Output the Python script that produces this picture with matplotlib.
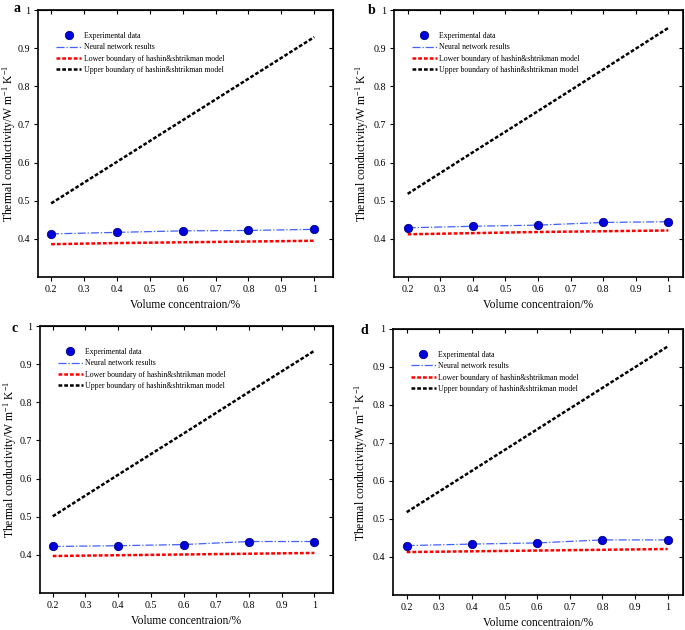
import numpy as np
import matplotlib
matplotlib.use("Agg")
import matplotlib.pyplot as plt

plt.rcParams['font.family'] = ['Liberation Serif', 'DejaVu Serif']
plt.rcParams['mathtext.fontset'] = 'custom'
plt.rcParams['mathtext.rm'] = 'Liberation Serif'
plt.rcParams['mathtext.it'] = 'Liberation Serif:italic'

conc = [0.2, 0.4, 0.6, 0.8, 1.0]

exp_a = [0.413, 0.417, 0.421, 0.422, 0.425]
low_a = [0.386, 0.389, 0.391, 0.393, 0.395]
up_a = [0.493, 0.602, 0.711, 0.820, 0.929]

exp_b = [0.429, 0.433, 0.436, 0.443, 0.445]
low_b = [0.412, 0.415, 0.418, 0.420, 0.422]
up_b = [0.518, 0.627, 0.735, 0.844, 0.953]

exp_c = [0.422, 0.424, 0.427, 0.435, 0.435]
low_c = [0.397, 0.399, 0.401, 0.403, 0.405]
up_c = [0.501, 0.610, 0.718, 0.827, 0.935]

exp_d = [0.430, 0.434, 0.437, 0.445, 0.445]
low_d = [0.413, 0.415, 0.417, 0.419, 0.421]
up_d = [0.518, 0.627, 0.736, 0.845, 0.954]

panels = ['a', 'b', 'c', 'd']
exps = [exp_a, exp_b, exp_c, exp_d]
lows = [low_a, low_b, low_c, low_d]
ups = [up_a, up_b, up_c, up_d]

W, H = 685, 630
# pixel boxes: left, right, top, bottom
boxes = [(38, 333, 10, 277), (394, 683, 10, 277),
         (40, 333, 326, 593), (393, 683, 329, 595)]
xlims = [(0.16, 1.057), (0.158, 1.045), (0.161, 1.057), (0.158, 1.047)]
letter_pos = [(13, 9), (368, 11), (11, 328), (361, 330)]
ylab_right = [18, 371, 19, 370]   # pixel x of the y label's right edge

fig = plt.figure(figsize=(W / 100, H / 100), dpi=100)

for k in range(4):
    l, r, t, b = boxes[k]
    ax = fig.add_axes([l / W, (H - b) / H, (r - l) / W, (b - t) / H])
    ax.plot(conc, exps[k], 'o', color='#0000dd', mec='#000080', mew=0.6, ms=6,
            label='Experimental data', zorder=5)
    ax.plot(conc, exps[k], '-.', color='#4060ff', lw=0.9,
            label='Neural network results')
    ax.plot(conc, lows[k], color='red', lw=1.8, ls=(0, (1.5, 0.8)),
            label='Lower boundary of hashin&shtrikman model')
    ax.plot(conc, ups[k], color='black', lw=1.8, ls=(0, (1.5, 0.8)),
            label='Upper boundary of hashin&shtrikman model')

    ax.set_xlim(*xlims[k])
    ax.set_ylim(0.3, 1.0)
    ax.set_xticks([0.2, 0.3, 0.4, 0.5, 0.6, 0.7, 0.8, 0.9, 1.0])
    ax.set_xticklabels(['0.2', '0.3', '0.4', '0.5', '0.6', '0.7', '0.8', '0.9', '1'])
    ax.set_yticks([0.4, 0.5, 0.6, 0.7, 0.8, 0.9, 1.0])
    ax.set_yticklabels(['0.4', '0.5', '0.6', '0.7', '0.8', '0.9', '1'])
    ax.tick_params(direction='out', length=3, width=0.8, labelsize=7.2, pad=2.5)
    for s in ax.spines.values():
        s.set_linewidth(1.2)

    sx = ax.secondary_xaxis('top')
    sx.set_xticks([0.2, 0.3, 0.4, 0.5, 0.6, 0.7, 0.8, 0.9, 1.0])
    sx.tick_params(direction='in', length=3, width=0.8, labeltop=False)
    sy = ax.secondary_yaxis('right')
    sy.set_yticks([0.4, 0.5, 0.6, 0.7, 0.8, 0.9, 1.0])
    sy.tick_params(direction='in', length=3, width=0.8, labelright=False)

    ax.set_xlabel('Volume concentraion/%', fontsize=8.3, labelpad=4)
    ax.set_ylabel('Thermal conductivity/W m$^{-1}$ K$^{-1}$', fontsize=8.4)
    ax.yaxis.set_label_coords((ylab_right[k] - l) / (r - l), 0.5)

    ax.legend(loc='upper left', bbox_to_anchor=(0.05, 0.93), frameon=False,
              fontsize=5.55, handlelength=3.3, handletextpad=0.3, labelspacing=0.45,
              borderaxespad=0)

    lx, ly = letter_pos[k]
    fig.text(lx / W, 1 - ly / H, panels[k], fontsize=10,
             fontweight='bold', ha='left', va='center')

fig.savefig('out.png', dpi=100)
